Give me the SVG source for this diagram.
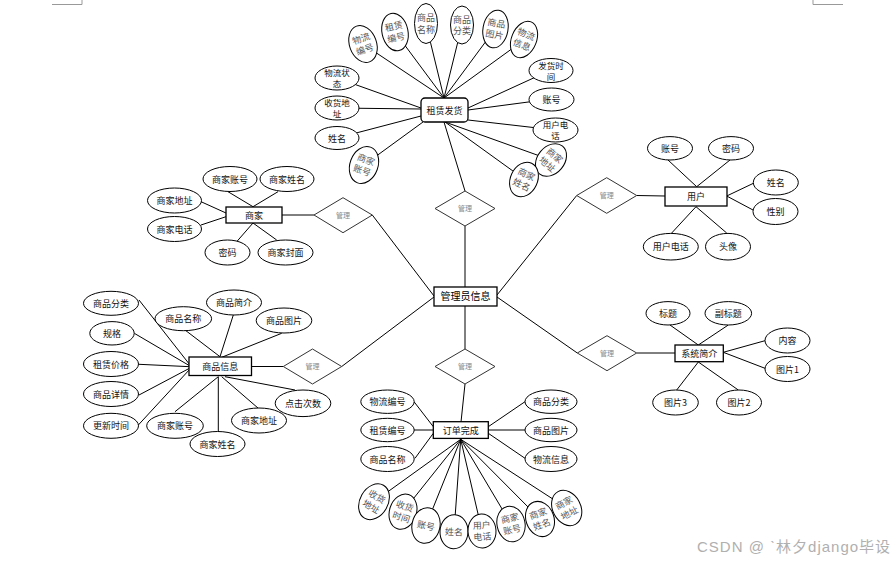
<svg xmlns="http://www.w3.org/2000/svg" width="896" height="561" viewBox="0 0 896 561">
<style>
.c{stroke:#000;stroke-width:1;fill:none}
.e{fill:#fff;stroke:#000;stroke-width:1}
.r{fill:#fff;stroke:#000;stroke-width:1.3}
.d{fill:#fff;stroke:#333;stroke-width:1}
.t{font-family:"Noto Sans CJK SC","Liberation Sans",sans-serif;font-size:9px;fill:#111;text-anchor:middle}
.s{font-family:"Noto Sans CJK SC","Liberation Sans",sans-serif;font-size:8.5px;fill:#111;text-anchor:middle}
.g{font-family:"Noto Sans CJK SC","Liberation Sans",sans-serif;font-size:9px;fill:#555;text-anchor:middle}
.dl{font-family:"Noto Sans CJK SC","Liberation Sans",sans-serif;font-size:7px;fill:#888;text-anchor:middle}
.b{font-family:"Noto Sans CJK SC","Liberation Sans",sans-serif;font-size:10px;fill:#000;text-anchor:middle}
.m{stroke:#999;stroke-width:1;fill:none}
</style>
<rect width="896" height="561" fill="#fff"/>
<polyline class="m" points="52,4.5 82,4.5 82,0"/>
<polyline class="m" points="843,4.5 813,4.5 813,0"/>

<g id="connectors">
<line class="c" x1="444" y1="98" x2="363" y2="44"/>
<line class="c" x1="444" y1="98" x2="395" y2="32"/>
<line class="c" x1="444" y1="98" x2="426" y2="24"/>
<line class="c" x1="444" y1="98" x2="462" y2="25"/>
<line class="c" x1="444" y1="98" x2="495" y2="29"/>
<line class="c" x1="444" y1="98" x2="524" y2="40"/>
<line class="c" x1="421" y1="108" x2="337" y2="78"/>
<line class="c" x1="421" y1="109" x2="337" y2="108"/>
<line class="c" x1="421" y1="116" x2="337" y2="138"/>
<line class="c" x1="423" y1="122" x2="364" y2="165"/>
<line class="c" x1="468" y1="108" x2="551" y2="70"/>
<line class="c" x1="468" y1="110" x2="551" y2="99"/>
<line class="c" x1="468" y1="120" x2="555" y2="130"/>
<line class="c" x1="445" y1="122" x2="551" y2="160"/>
<line class="c" x1="445" y1="122" x2="524" y2="179"/>
<line class="c" x1="444" y1="122" x2="465" y2="191"/>
<line class="c" x1="465" y1="226" x2="465" y2="287"/>
<line class="c" x1="465" y1="306" x2="465" y2="349"/>
<line class="c" x1="465" y1="384" x2="461" y2="422"/>
<line class="c" x1="434" y1="296" x2="372.3" y2="215"/>
<line class="c" x1="434" y1="297" x2="341.7" y2="366.5"/>
<line class="c" x1="497" y1="295" x2="576.7" y2="195.5"/>
<line class="c" x1="497" y1="297" x2="577.3" y2="353"/>
<line class="c" x1="281.7" y1="215" x2="314" y2="215"/>
<line class="c" x1="253" y1="206.7" x2="228" y2="191.7"/>
<line class="c" x1="253" y1="206.7" x2="278" y2="191.7"/>
<line class="c" x1="226" y1="213" x2="201" y2="201.7"/>
<line class="c" x1="226" y1="216.7" x2="201" y2="225"/>
<line class="c" x1="253" y1="223" x2="236.7" y2="241.7"/>
<line class="c" x1="253" y1="223" x2="276.7" y2="240"/>
<line class="c" x1="636.7" y1="195.5" x2="665" y2="196"/>
<line class="c" x1="696.7" y1="186.7" x2="668" y2="160"/>
<line class="c" x1="696.7" y1="186.7" x2="730" y2="160"/>
<line class="c" x1="726.7" y1="196" x2="754" y2="183"/>
<line class="c" x1="726.7" y1="196" x2="753" y2="210"/>
<line class="c" x1="696" y1="206.7" x2="671.7" y2="233"/>
<line class="c" x1="696" y1="206.7" x2="726.7" y2="233"/>
<line class="c" x1="251.7" y1="366.5" x2="283.3" y2="366.5"/>
<line class="c" x1="190" y1="365" x2="139" y2="300"/>
<line class="c" x1="190" y1="366" x2="134.3" y2="333.3"/>
<line class="c" x1="190" y1="366.7" x2="139" y2="364.3"/>
<line class="c" x1="190" y1="368" x2="139" y2="395"/>
<line class="c" x1="190" y1="369" x2="137.7" y2="425.7"/>
<line class="c" x1="220" y1="356.7" x2="185" y2="330"/>
<line class="c" x1="220" y1="356.7" x2="233.3" y2="315"/>
<line class="c" x1="221.7" y1="357.3" x2="281.7" y2="333.3"/>
<line class="c" x1="218.3" y1="376.7" x2="175" y2="411.7"/>
<line class="c" x1="218.3" y1="376.7" x2="218.3" y2="432"/>
<line class="c" x1="221.7" y1="376.7" x2="258.3" y2="408.3"/>
<line class="c" x1="225" y1="376.7" x2="295" y2="390"/>
<line class="c" x1="636.7" y1="353" x2="675" y2="353"/>
<line class="c" x1="698.3" y1="345" x2="670" y2="325"/>
<line class="c" x1="698.3" y1="345" x2="728.3" y2="325"/>
<line class="c" x1="723.3" y1="352.3" x2="765" y2="340.7"/>
<line class="c" x1="723.3" y1="352.3" x2="765" y2="368.3"/>
<line class="c" x1="698.3" y1="362" x2="676.7" y2="390"/>
<line class="c" x1="698.3" y1="362" x2="738.3" y2="390"/>
<line class="c" x1="433.3" y1="426.7" x2="414" y2="401.7"/>
<line class="c" x1="433.3" y1="430" x2="414" y2="430"/>
<line class="c" x1="433.3" y1="433.3" x2="415" y2="458.3"/>
<line class="c" x1="488.3" y1="426.7" x2="525" y2="401.7"/>
<line class="c" x1="488.3" y1="430" x2="525" y2="430"/>
<line class="c" x1="488.3" y1="433.3" x2="525" y2="458.3"/>
<line class="c" x1="460.7" y1="439.3" x2="374" y2="501.7"/>
<line class="c" x1="460.7" y1="439.3" x2="403" y2="511.7"/>
<line class="c" x1="460.7" y1="439.3" x2="426" y2="525.5"/>
<line class="c" x1="460.7" y1="439.3" x2="454" y2="531.7"/>
<line class="c" x1="460.7" y1="439.3" x2="482" y2="531"/>
<line class="c" x1="460.7" y1="439.3" x2="511" y2="524"/>
<line class="c" x1="460.7" y1="439.3" x2="540" y2="519"/>
<line class="c" x1="460.7" y1="439.3" x2="566.7" y2="508"/>
</g>

<g id="rent-ship">
<rect class="r" x="421" y="98" width="47" height="24" rx="4"/>
<text class="t" x="444.5" y="113.5">租赁发货</text>
</g>
<g id="rs-wlbh" transform="translate(363,44) rotate(-20)"><ellipse class="e" rx="13.5" ry="19"/><text class="g" y="-2.5">物流</text><text class="g" y="9">编号</text></g>
<g id="rs-zlbh" transform="translate(395,32) rotate(-12)"><ellipse class="e" rx="13" ry="19"/><text class="g" y="-2.5">租赁</text><text class="g" y="9">编号</text></g>
<g id="rs-spmc" transform="translate(426,23.5)"><ellipse class="e" rx="11.5" ry="20"/><text class="g" y="-2.5">商品</text><text class="g" y="9">名称</text></g>
<g id="rs-spfl" transform="translate(462,25)"><ellipse class="e" rx="11.5" ry="19"/><text class="g" y="-2.5">商品</text><text class="g" y="9">分类</text></g>
<g id="rs-sptp" transform="translate(495.5,29) rotate(10)"><ellipse class="e" rx="12.5" ry="19"/><text class="g" y="-2.5">商品</text><text class="g" y="9">图片</text></g>
<g id="rs-wlxx" transform="translate(524,39.5) rotate(22)"><ellipse class="e" rx="12.5" ry="19"/><text class="g" y="-2.5">物流</text><text class="g" y="9">信息</text></g>
<g id="rs-wlzt"><ellipse class="e" cx="337" cy="78" rx="22" ry="12"/><text class="s" x="337" y="76">物流状</text><text class="s" x="337" y="87">态</text></g>
<g id="rs-shdz"><ellipse class="e" cx="337" cy="108" rx="22" ry="12"/><text class="s" x="337" y="106">收货地</text><text class="s" x="337" y="117">址</text></g>
<g id="rs-xm"><ellipse class="e" cx="337" cy="138" rx="22" ry="11.5"/><text class="t" x="337" y="141.5">姓名</text></g>
<g id="rs-sjzh" transform="translate(364,165) rotate(20)"><ellipse class="e" rx="14" ry="19"/><text class="g" y="-2.5">商家</text><text class="g" y="9">账号</text></g>
<g id="rs-fhsj"><ellipse class="e" cx="551" cy="70.5" rx="22" ry="12"/><text class="s" x="551" y="68.5">发货时</text><text class="s" x="551" y="79.5">间</text></g>
<g id="rs-zh"><ellipse class="e" cx="551.5" cy="99.5" rx="22.5" ry="11.5"/><text class="t" x="551.5" y="103">账号</text></g>
<g id="rs-yhdh"><ellipse class="e" cx="555.5" cy="130" rx="22.5" ry="12"/><text class="s" x="555.5" y="128">用户电</text><text class="s" x="555.5" y="139">话</text></g>
<g id="rs-sjdz" transform="translate(551,160) rotate(40)"><ellipse class="e" rx="13.5" ry="18"/><text class="g" y="-2.5">商家</text><text class="g" y="9">地址</text></g>
<g id="rs-sjxm" transform="translate(524,179.5) rotate(25)"><ellipse class="e" rx="13.5" ry="18"/><text class="g" y="-2.5">商家</text><text class="g" y="9">姓名</text></g>

<g id="dia-top"><polygon class="d" points="465,191 495,208.5 465,226 435,208.5"/><text class="dl" x="465" y="211">管理</text></g>
<g id="admin"><rect class="r" x="434" y="287" width="63" height="19"/><text class="b" x="465.5" y="300">管理员信息</text></g>
<g id="dia-bottom"><polygon class="d" points="465,349 495,366.5 465,384 435,366.5"/><text class="dl" x="465" y="369">管理</text></g>
<g id="dia-merchant"><polygon class="d" points="314,215 343,197.7 372.3,215 343,232.7"/><text class="dl" x="343" y="217.5">管理</text></g>
<g id="dia-user"><polygon class="d" points="576.7,195.5 606.7,177.7 636.7,195.5 606.7,213.3"/><text class="dl" x="606.7" y="198">管理</text></g>
<g id="dia-product"><polygon class="d" points="283.3,366.5 312.5,349 341.7,366.5 312.5,384"/><text class="dl" x="312.5" y="369">管理</text></g>
<g id="dia-system"><polygon class="d" points="577.3,353 607,335.7 636.7,353 607,370.7"/><text class="dl" x="607" y="355.5">管理</text></g>

<g id="merchant"><rect class="r" x="226" y="207" width="56" height="16"/><text class="t" x="254" y="218.5">商家</text></g>
<g id="m-zh"><ellipse class="e" cx="230" cy="179" rx="27" ry="12.5"/><text class="t" x="230" y="182.5">商家账号</text></g>
<g id="m-xm"><ellipse class="e" cx="287" cy="179" rx="27" ry="12.5"/><text class="t" x="287" y="182.5">商家姓名</text></g>
<g id="m-dz"><ellipse class="e" cx="174.5" cy="200.5" rx="27" ry="12.5"/><text class="t" x="174.5" y="204">商家地址</text></g>
<g id="m-dh"><ellipse class="e" cx="174.5" cy="229" rx="27" ry="12.5"/><text class="t" x="174.5" y="232.5">商家电话</text></g>
<g id="m-mm"><ellipse class="e" cx="227.5" cy="252.5" rx="22.5" ry="12.5"/><text class="t" x="227.5" y="256">密码</text></g>
<g id="m-fm"><ellipse class="e" cx="285.5" cy="252.5" rx="27.5" ry="12.5"/><text class="t" x="285.5" y="256">商家封面</text></g>

<g id="user"><rect class="r" x="665" y="187" width="62" height="19"/><text class="t" x="696" y="200">用户</text></g>
<g id="u-zh"><ellipse class="e" cx="670" cy="148.3" rx="22.5" ry="11.7"/><text class="t" x="670" y="151.8">账号</text></g>
<g id="u-mm"><ellipse class="e" cx="731" cy="148.3" rx="22.5" ry="11.7"/><text class="t" x="731" y="151.8">密码</text></g>
<g id="u-xm"><ellipse class="e" cx="775.8" cy="182.5" rx="22.5" ry="12.5"/><text class="t" x="775.8" y="186">姓名</text></g>
<g id="u-xb"><ellipse class="e" cx="775.5" cy="211.5" rx="22.5" ry="13"/><text class="t" x="775.5" y="215" fill="#300">性别</text></g>
<g id="u-dh"><ellipse class="e" cx="670.8" cy="246.7" rx="27.5" ry="13.3"/><text class="t" x="670.8" y="250.2">用户电话</text></g>
<g id="u-tx"><ellipse class="e" cx="728" cy="246.7" rx="22.5" ry="13.3"/><text class="t" x="728" y="250.2">头像</text></g>

<g id="product"><rect class="r" x="189" y="357" width="62.5" height="18.5"/><text class="t" x="220.2" y="369.5">商品信息</text></g>
<g id="p-fl"><ellipse class="e" cx="111" cy="303.3" rx="27.5" ry="12"/><text class="t" x="111" y="306.8">商品分类</text></g>
<g id="p-mc"><ellipse class="e" cx="183.3" cy="318.7" rx="28.3" ry="12"/><text class="t" x="183.3" y="322.2">商品名称</text></g>
<g id="p-jj"><ellipse class="e" cx="234" cy="302.5" rx="27.5" ry="12.5"/><text class="t" x="234" y="306">商品简介</text></g>
<g id="p-tp"><ellipse class="e" cx="284" cy="320.5" rx="27.8" ry="12.5"/><text class="t" x="284" y="324">商品图片</text></g>
<g id="p-gg"><ellipse class="e" cx="112" cy="333.3" rx="22.2" ry="11.7"/><text class="t" x="112" y="336.8">规格</text></g>
<g id="p-jg"><ellipse class="e" cx="111" cy="364" rx="27.5" ry="12.5"/><text class="t" x="111" y="367.5">租赁价格</text></g>
<g id="p-xq"><ellipse class="e" cx="111" cy="394" rx="27.5" ry="12.5"/><text class="t" x="111" y="397.5">商品详情</text></g>
<g id="p-gx"><ellipse class="e" cx="111" cy="425.8" rx="27.5" ry="12.5"/><text class="t" x="111" y="429.3">更新时间</text></g>
<g id="p-sjzh"><ellipse class="e" cx="175" cy="425.8" rx="28.3" ry="12.5"/><text class="t" x="175" y="429.3">商家账号</text></g>
<g id="p-sjxm"><ellipse class="e" cx="217.5" cy="444" rx="27.5" ry="12.5"/><text class="t" x="217.5" y="447.5">商家姓名</text></g>
<g id="p-sjdz"><ellipse class="e" cx="259" cy="420.5" rx="27.5" ry="12.5"/><text class="t" x="259" y="424">商家地址</text></g>
<g id="p-djcs"><ellipse class="e" cx="303" cy="403.3" rx="27.8" ry="13.3"/><text class="t" x="303" y="406.8">点击次数</text></g>

<g id="system"><rect class="r" x="675" y="345" width="48.3" height="16.7"/><text class="t" x="699.2" y="356.8">系统简介</text></g>
<g id="s-bt"><ellipse class="e" cx="668" cy="313.3" rx="22" ry="11.7"/><text class="t" x="668" y="316.8">标题</text></g>
<g id="s-fbt"><ellipse class="e" cx="728.3" cy="313.3" rx="23.3" ry="11.7"/><text class="t" x="728.3" y="316.8">副标题</text></g>
<g id="s-nr"><ellipse class="e" cx="787.5" cy="340.5" rx="22.5" ry="12.5"/><text class="t" x="787.5" y="344">内容</text></g>
<g id="s-tp1"><ellipse class="e" cx="787.5" cy="369" rx="22.5" ry="12.5"/><text class="t" x="787.5" y="372.5">图片1</text></g>
<g id="s-tp3"><ellipse class="e" cx="675.5" cy="402.5" rx="22.8" ry="12.5"/><text class="t" x="675.5" y="406">图片3</text></g>
<g id="s-tp2"><ellipse class="e" cx="739" cy="402.5" rx="22.5" ry="12.5"/><text class="t" x="739" y="406">图片2</text></g>

<g id="order"><rect class="r" x="433.3" y="421.7" width="55" height="16.7"/><text class="t" x="460.8" y="433.5">订单完成</text></g>
<g id="o-wlbh"><ellipse class="e" cx="387.5" cy="401.7" rx="26.7" ry="11.7"/><text class="t" x="387.5" y="405.2">物流编号</text></g>
<g id="o-zlbh"><ellipse class="e" cx="387.5" cy="430" rx="26.7" ry="11.7"/><text class="t" x="387.5" y="433.5">租赁编号</text></g>
<g id="o-spmc"><ellipse class="e" cx="387.5" cy="459" rx="26.7" ry="12.5"/><text class="t" x="387.5" y="462.5">商品名称</text></g>
<g id="o-spfl"><ellipse class="e" cx="551" cy="401.7" rx="26" ry="11.7"/><text class="t" x="551" y="405.2">商品分类</text></g>
<g id="o-sptp"><ellipse class="e" cx="551" cy="430" rx="26" ry="11.7"/><text class="t" x="551" y="433.5">商品图片</text></g>
<g id="o-wlxx"><ellipse class="e" cx="551" cy="459" rx="26" ry="12.5"/><text class="t" x="551" y="462.5">物流信息</text></g>
<g id="o-shdz" transform="translate(374,501.7) rotate(30)"><ellipse class="e" rx="14" ry="19"/><text class="g" y="-2.5">收货</text><text class="g" y="9">地址</text></g>
<g id="o-shsj" transform="translate(403,511.7) rotate(18)"><ellipse class="e" rx="13.5" ry="18"/><text class="g" y="-2.5">收货</text><text class="g" y="9">时间</text></g>
<g id="o-zh" transform="translate(426,525.5) rotate(12)"><ellipse class="e" rx="14" ry="18"/><text class="g" y="3.5">账号</text></g>
<g id="o-xm" transform="translate(454,531.7) rotate(3)"><ellipse class="e" rx="14" ry="17"/><text class="g" y="3.5">姓名</text></g>
<g id="o-yhdh" transform="translate(482,531) rotate(-3)"><ellipse class="e" rx="14" ry="17"/><text class="g" y="-2.5">用户</text><text class="g" y="9">电话</text></g>
<g id="o-sjzh" transform="translate(511,524) rotate(-12)"><ellipse class="e" rx="14" ry="18"/><text class="g" y="-2.5">商家</text><text class="g" y="9">账号</text></g>
<g id="o-sjxm" transform="translate(540,519) rotate(-20)"><ellipse class="e" rx="14" ry="18"/><text class="g" y="-2.5">商家</text><text class="g" y="9">姓名</text></g>
<g id="o-sjdz" transform="translate(566.7,508) rotate(-28)"><ellipse class="e" rx="14" ry="18.5"/><text class="g" y="-2.5">商家</text><text class="g" y="9">地址</text></g>

<text x="697" y="552" font-family="Liberation Sans, Noto Sans CJK SC, sans-serif" font-size="15" letter-spacing="1" fill="#b0b0b0">CSDN @ ˋ林夕django毕设</text>
</svg>
